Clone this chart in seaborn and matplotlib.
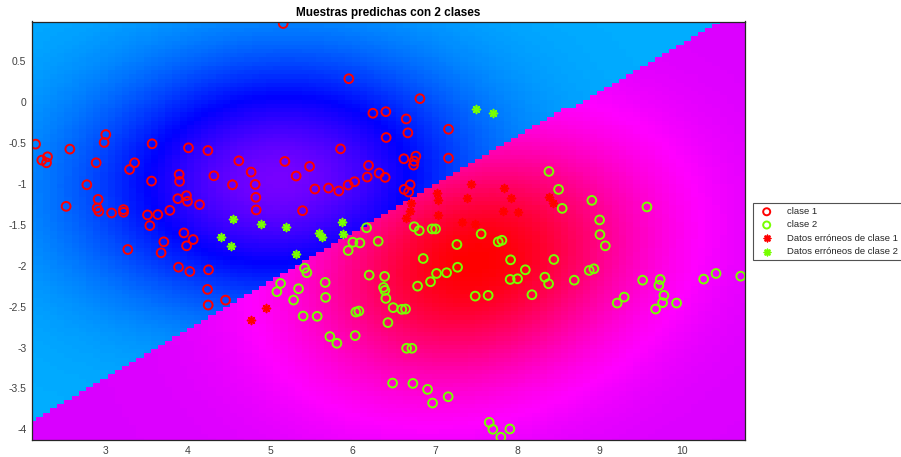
import colorsys

import numpy as np
import pandas as pd
import matplotlib
matplotlib.use("Agg")
import matplotlib.pyplot as plt
from matplotlib.colors import ListedColormap
import seaborn as sns

# ---- samples -------------------------------------------------------------
clase1_x = [5.16, 5.956, 6.818, 6.248, 6.405, 6.652, 7.165, 6.672, 6.409, 2.156,
            3.008, 2.988, 3.570, 4.011, 4.246, 2.572, 5.855, 2.232, 2.301, 2.289,
            2.891, 3.357, 3.296, 4.622, 5.180, 6.624, 6.769, 6.749, 6.741, 7.165,
            4.771, 4.319, 5.480, 5.317, 3.898, 3.903, 3.563, 2.778, 4.545, 4.820,
            6.195, 6.324, 6.179, 6.397, 6.026, 5.948, 5.835, 5.710, 5.544, 6.700,
            6.627, 6.681, 4.828, 4.832, 5.395, 2.527, 2.915, 2.903, 2.924, 3.078,
            3.223, 3.223, 3.514, 3.639, 3.785, 3.882, 3.987, 3.999, 4.145, 3.542,
            3.955, 3.712, 3.988, 4.068, 3.679, 3.275, 3.890, 4.028, 4.254, 4.242,
            4.250, 4.461]
clase1_y = [0.963, 0.288, 0.044, -0.134, -0.115, -0.204, -0.330, -0.374, -0.431, -0.512,
            -0.395, -0.492, -0.508, -0.557, -0.590, -0.573, -0.570, -0.708, -0.667, -0.740,
            -0.740, -0.740, -0.822, -0.716, -0.724, -0.691, -0.659, -0.720, -0.768, -0.683,
            -0.854, -0.899, -0.785, -0.902, -0.883, -0.968, -0.964, -1.009, -1.009, -1.005,
            -0.773, -0.866, -0.915, -0.919, -0.972, -1.012, -1.085, -1.049, -1.061, -1.009,
            -1.066, -1.098, -1.163, -1.317, -1.326, -1.273, -1.188, -1.293, -1.334, -1.354,
            -1.313, -1.346, -1.378, -1.374, -1.322, -1.179, -1.143, -1.212, -1.252, -1.509,
            -1.598, -1.707, -1.756, -1.679, -1.841, -1.801, -2.017, -2.070, -2.049, -2.289,
            -2.480, -2.420]

clase2_x = [8.383, 8.500, 8.904, 8.544, 9.572, 8.998, 9.002, 9.067, 6.171, 6.749,
            6.810, 6.967, 7.008, 7.561, 7.267, 7.768, 7.813, 6.312, 6.858, 7.275,
            7.918, 8.443, 8.097, 7.142, 7.913, 8.003, 8.334, 8.379, 8.690, 8.872,
            8.929, 7.489, 7.646, 8.177, 9.520, 9.733, 9.717, 9.778, 9.762, 9.677,
            9.932, 9.211, 9.296, 10.26, 10.41, 10.71, 7.161, 7.659, 7.703, 7.800,
            7.910, 6.005, 6.090, 5.948, 6.203, 6.390, 7.020, 6.947, 6.790, 6.377,
            6.393, 6.405, 6.494, 6.599, 6.644, 6.430, 6.041, 6.078, 5.128, 5.083,
            5.419, 5.447, 5.669, 5.674, 5.346, 5.286, 5.402, 5.572, 5.726, 5.811,
            6.033, 6.657, 6.721, 6.487, 6.733, 6.911, 6.972]
clase2_y = [-0.846, -1.066, -1.200, -1.298, -1.280, -1.439, -1.618, -1.756, -1.535, -1.522,
            -1.570, -1.549, -1.549, -1.610, -1.740, -1.707, -1.688, -1.700, -1.911, -2.018,
            -1.927, -1.923, -2.049, -2.085, -2.167, -2.159, -2.139, -2.220, -2.176, -2.057,
            -2.037, -2.371, -2.362, -2.354, -2.176, -2.167, -2.240, -2.362, -2.451, -2.529,
            -2.456, -2.456, -2.383, -2.163, -2.094, -2.127, -3.602, -3.915, -4.000, -4.098,
            -3.996, -1.712, -1.720, -1.813, -2.114, -2.130, -2.094, -2.195, -2.249, -2.265,
            -2.301, -2.399, -2.512, -2.533, -2.529, -2.695, -2.566, -2.554, -2.216, -2.317,
            -2.029, -2.085, -2.204, -2.387, -2.281, -2.419, -2.615, -2.618, -2.866, -2.948,
            -2.854, -3.009, -3.009, -3.435, -3.439, -3.512, -3.679]

# misclassified samples
err1_x = [7.439, 7.020, 7.032, 6.709, 6.697, 6.644, 7.032, 7.392, 7.327, 7.489,
          7.837, 7.918, 7.829, 8.007, 8.383, 8.435, 4.768, 4.950]
err1_y = [-1.000, -1.115, -1.195, -1.236, -1.326, -1.411, -1.374, -1.176, -1.468, -1.484,
          -1.049, -1.176, -1.326, -1.346, -1.159, -1.232, -2.667, -2.517]
err2_x = [4.546, 4.893, 5.196, 5.872, 4.407, 4.521, 5.593, 5.633, 5.888, 5.310,
          7.497, 7.707]
err2_y = [-1.423, -1.484, -1.529, -1.468, -1.651, -1.752, -1.598, -1.646, -1.610, -1.854,
          -0.082, -0.130]

# ---- classifier used for the background map -------------------------------
frontera = [0.585, -5.114]            # y = m*x + b, class 1 above the line
media1, desv1, rho1 = [5.10, -0.95], [1.55, 1.00], 0.05
media2, desv2, rho2 = [7.50, -1.95], [1.35, 1.00], 0.20
tono1 = [0.553, 0.190]                # hue offset / span for class 1
tono2 = [0.808, 0.192]                # hue offset / span for class 2

X_LIM = [2.113, 10.758]
Y_LIM = [-4.131, 0.988]
N_GRID = 100


def campo(gx, gy, mu, sd, rho):
    u = (gx - mu[0]) / sd[0]
    v = (gy - mu[1]) / sd[1]
    d2 = (u * u - 2 * rho * u * v + v * v) / (1 - rho * rho)
    return np.exp(-0.5 * d2)


hsv_cmap = ListedColormap([colorsys.hsv_to_rgb(h, 1, 1) for h in np.linspace(0, 1, 512)])

sns.set_theme(style="white")
plt.rcParams["font.family"] = ["Liberation Sans", "DejaVu Sans"]

fig = plt.figure(figsize=(9.01, 4.57), dpi=100)
ax = fig.add_axes([32 / 901, 1 - 440 / 457, (744.7 - 32) / 901, (440 - 21.5) / 457])

gx = np.linspace(X_LIM[0], X_LIM[1], N_GRID)
gy = np.linspace(Y_LIM[0], Y_LIM[1], N_GRID)
GX, GY = np.meshgrid(gx, gy)
es_clase1 = GY > frontera[0] * GX + frontera[1]
tono = np.where(es_clase1,
                tono1[0] + tono1[1] * campo(GX, GY, media1, desv1, rho1),
                tono2[0] + tono2[1] * campo(GX, GY, media2, desv2, rho2))
ax.pcolormesh(gx, gy, tono, cmap=hsv_cmap, vmin=0, vmax=1, shading="nearest",
              rasterized=True)

ROJO = "#ff0000"
VERDE = "#77ff00"
asterisco = (8, 2, 0)

sns.scatterplot(x=clase1_x, y=clase1_y, ax=ax, marker="o", s=40,
                facecolors="none", edgecolor=ROJO, linewidth=1.4, label="clase 1")
sns.scatterplot(x=clase2_x, y=clase2_y, ax=ax, marker="o", s=40,
                facecolors="none", edgecolor=VERDE, linewidth=1.4, label="clase 2")
sns.scatterplot(x=err1_x, y=err1_y, ax=ax, marker=asterisco, s=32,
                color=ROJO, linewidth=1.2, label="Datos erróneos de clase 1")
sns.scatterplot(x=err2_x, y=err2_y, ax=ax, marker=asterisco, s=32,
                color=VERDE, linewidth=1.2, label="Datos erróneos de clase 2")

ax.set_xlim(X_LIM)
ax.set_ylim(Y_LIM)
xt = [3, 4, 5, 6, 7, 8, 9, 10]
yt = [0.5, 0, -0.5, -1, -1.5, -2, -2.5, -3, -3.5, -4]
ax.set_xticks(xt)
ax.set_xticklabels([f"{v:g}" for v in xt])
ax.set_yticks(yt)
ax.set_yticklabels([f"{v:g}" for v in yt])
ax.set_xlabel("")
ax.set_ylabel("")
ax.tick_params(direction="in", top=True, right=True, length=5, width=0.8,
               color="#262626", labelsize=7.5, labelcolor="#404040", pad=4)
for sp in ax.spines.values():
    sp.set_color("#262626")
    sp.set_linewidth(0.9)

ax.set_title("Muestras predichas con 2 clases", fontsize=8.5, fontweight="bold",
             color="black", pad=4)

leg = ax.legend(loc="upper left", bbox_to_anchor=(753 / 901, 1 - 203 / 457),
                bbox_transform=fig.transFigure, fontsize=6.8, frameon=True,
                fancybox=False, borderpad=0.45, labelspacing=0.45, markerscale=0.8,
                handletextpad=1.2, handlelength=2.0, borderaxespad=0)
leg.get_frame().set_edgecolor("#262626")
leg.get_frame().set_linewidth(0.8)

fig.savefig("out.png", dpi=100)
